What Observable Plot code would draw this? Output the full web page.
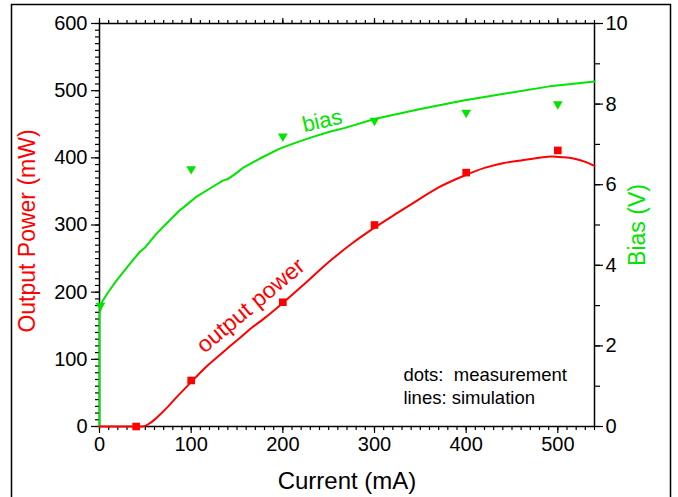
<!DOCTYPE html>
<html>
<head>
<meta charset="utf-8">
<script src="https://cdn.jsdelivr.net/npm/d3@7"></script>
<script src="https://cdn.jsdelivr.net/npm/@observablehq/plot@0.6"></script>
<style>
  body { margin: 0; background: #fff; }
</style>
</head>
<body>
<div id="chart"></div>
<script>
// Simulated output power (lines)
const powerSimCurrent = [0, 47, 55, 63.8, 75, 83.7, 100, 115, 130.8, 140, 154, 165, 179.7, 200, 225, 252, 275, 300, 325, 346, 370, 397, 420, 440, 460, 480, 493, 505, 517, 530, 540];
const powerSimValue   = [0, 0, 5, 15, 30, 43, 66, 87, 106, 117, 133, 146, 161, 184, 214, 247, 272, 296, 318, 336, 356, 373, 385, 392, 396, 400, 402, 401, 399, 394, 388];

// Simulated bias (lines)
const biasSimCurrent = [0, 0, 3, 10, 18.5, 30, 43.8, 50, 62, 75, 87.3, 95, 105, 120, 134.5, 140, 150, 156, 175, 196, 215, 232, 252, 268, 300, 350, 397, 450, 491, 520, 540];
const biasSimValue   = [0, 2.8, 3.1, 3.35, 3.62, 3.95, 4.33, 4.45, 4.78, 5.08, 5.36, 5.5, 5.69, 5.9, 6.1, 6.14, 6.3, 6.41, 6.65, 6.89, 7.05, 7.18, 7.32, 7.41, 7.63, 7.88, 8.09, 8.29, 8.44, 8.51, 8.56];

// Measurements (dots)
const powerMeasCurrent = [40, 100, 200, 300, 400, 500];
const powerMeasValue   = [0, 68.5, 185, 300, 378, 411];
const biasMeasCurrent  = [1, 100, 200, 300, 400, 500];
const biasMeasValue    = [3.0, 6.39, 7.2, 7.59, 7.79, 8.0];

// Tick labels
const xTicks = [0, 100, 200, 300, 400, 500];
const yTicks = [0, 100, 200, 300, 400, 500, 600];
const biasTicks = [0, 2, 4, 6, 8, 10];

const BIAS_TO_POWER = 60; // right axis 0–10 V mapped onto left 0–600 mW
const RED = "#ff0000";
const GREEN = "#00e400";

const powerSim = powerSimCurrent.map((c, i) => ({c, v: powerSimValue[i]}));
const biasSim = biasSimCurrent.map((c, i) => ({c, v: biasSimValue[i]}));
const powerMeas = powerMeasCurrent.map((c, i) => ({c, v: powerMeasValue[i]}));
const biasMeas = biasMeasCurrent.map((c, i) => ({c, v: biasMeasValue[i]}));

const noText = () => "";

const plot = Plot.plot({
  width: 678,
  height: 497,
  marginLeft: 99,
  marginRight: 84,
  marginTop: 23,
  marginBottom: 71,
  style: {fontFamily: "'Liberation Sans', Arial, sans-serif", fontSize: "20px", color: "#000", background: "#fff"},
  x: {domain: [0, 540]},
  y: {domain: [0, 600]},
  marks: [
    // minor ticks
    Plot.axisY({ticks: d3.range(0, 601, 10), tickSize: 4, tickFormat: noText, label: null, strokeWidth: 1.2}),
    Plot.axisX({ticks: d3.range(0, 541, 10), tickSize: 4, tickFormat: noText, label: null, strokeWidth: 1.2}),
    Plot.axisX({anchor: "top", ticks: d3.range(0, 541, 10), tickSize: 4, tickFormat: noText, label: null, strokeWidth: 1.2}),
    Plot.axisY({anchor: "right", ticks: d3.range(0, 11, 1).map(v => v * BIAS_TO_POWER), tickSize: 5, tickFormat: noText, label: null, strokeWidth: 1.2}),
    // major ticks
    Plot.axisY({ticks: yTicks, tickSize: 8, tickPadding: 4, label: null, strokeWidth: 1.2}),
    Plot.axisX({ticks: xTicks, tickSize: 7, tickPadding: 3, label: null, strokeWidth: 1.2}),
    Plot.axisX({anchor: "top", ticks: xTicks, tickSize: 6, tickFormat: noText, label: null, strokeWidth: 1.2}),
    Plot.axisY({anchor: "right", ticks: biasTicks.map(v => v * BIAS_TO_POWER), tickSize: 8, tickPadding: 3,
      tickFormat: d => String(Math.round(d / BIAS_TO_POWER)), label: null, strokeWidth: 1.2}),
    Plot.frame({stroke: "#000", strokeWidth: 1.5}),

    // simulation lines
    Plot.line(biasSim, {x: "c", y: d => d.v * BIAS_TO_POWER, stroke: GREEN, strokeWidth: 2}),
    Plot.line(powerSim, {x: "c", y: "v", stroke: RED, strokeWidth: 2, curve: "monotone-x"}),

    // measurement dots
    Plot.dot(powerMeas, {x: "c", y: "v", symbol: "square", r: 4.3, fill: RED, stroke: null}),
    Plot.dot(biasMeas, {x: "c", y: d => d.v * BIAS_TO_POWER, symbol: "triangle", r: 3.6, rotate: 180, fill: GREEN, stroke: null}),

    // annotations
    Plot.text(["bias"], {x: 243, y: 455, text: d => d, rotate: -13, fill: GREEN, fontSize: 22}),
    Plot.text(["output power"], {x: 165, y: 180, text: d => d, rotate: -40, fill: RED, fontSize: 23}),
    Plot.text(["dots:  measurement", "lines: simulation"], {
      x: 331.5, y: (d, i) => [76, 43][i], text: d => d, textAnchor: "start", fill: "#000", fontSize: 18.5
    }),

    // axis titles
    Plot.text(["Current (mA)"], {frameAnchor: "bottom", dy: 55, lineAnchor: "middle", textAnchor: "middle", text: d => d, fill: "#000", fontSize: 24}),
    Plot.text(["Output Power (mW)"], {frameAnchor: "left", dx: -72, dy: 6, rotate: -90, textAnchor: "middle", lineAnchor: "middle", text: d => d, fill: RED, fontSize: 23}),
    Plot.text(["Bias (V)"], {frameAnchor: "right", dx: 43, dy: 0, rotate: -90, textAnchor: "middle", lineAnchor: "middle", text: d => d, fill: GREEN, fontSize: 23})
  ]
});

d3.select(plot).append("rect")
  .attr("x", 11.5).attr("y", 4.5)
  .attr("width", 659).attr("height", 520)
  .attr("fill", "none").attr("stroke", "#000").attr("stroke-width", 1.5);

document.getElementById("chart").appendChild(plot);
</script>
</body>
</html>
